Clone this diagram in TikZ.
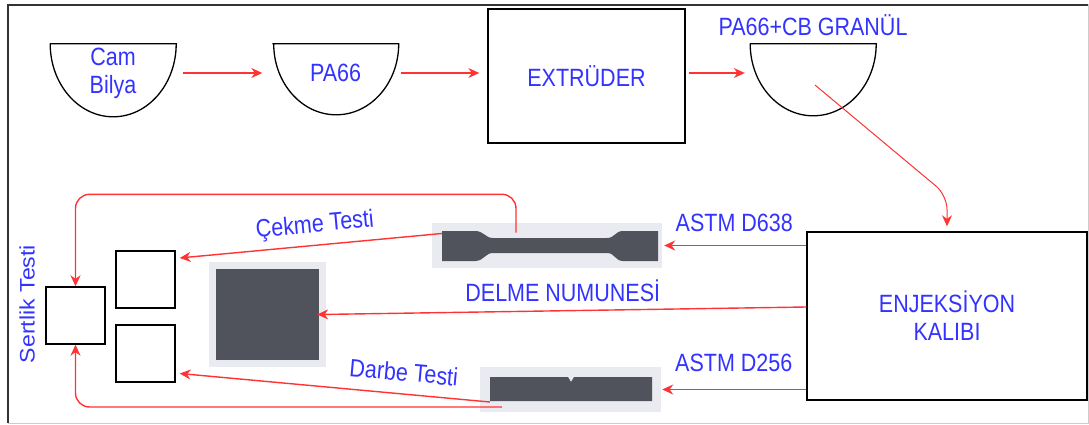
\documentclass[tikz,border=0pt]{standalone}
\usepackage{fontspec}
\usetikzlibrary{arrows.meta}

\newfontfamily\lblfont[FakeStretch=0.86]{Liberation Sans}
\newfontfamily\lblrotfont[FakeStretch=1.1]{Liberation Sans}

\definecolor{lblue}{RGB}{51,51,255}
\definecolor{lred}{RGB}{255,51,51}
\definecolor{specgray}{RGB}{80,82,92}
\definecolor{halo}{RGB}{234,235,241}

\tikzset{
  lbl/.style={font=\lblfont\fontsize{25}{28}\selectfont, text=lblue, inner sep=2pt, align=center},
  arr/.style={draw=lred, line width=1.4pt, -{Stealth[length=11pt,width=10pt]}},
  box/.style={draw=black, line width=1.4pt, fill=white, inner sep=0pt},
  bowl/.style={lbl, minimum width=126pt, minimum height=58pt},
  bowlline/.style={draw=black, line width=1.3pt},
  halobox/.style={fill=halo, inner sep=0pt},
}

\begin{document}
\begin{tikzpicture}[x=1pt, y=-1pt]

\useasboundingbox (0,0) rectangle (1089,425);

% Frame
\draw[gray!40, line width=1pt] (8,5) rectangle (1088,423);
\draw[black!80, line width=1.2pt] (8,423) -- (8,5) -- (1088,5);

% Top row
\node[bowl] (cam) at (113,73) {Cam\\Bilya};
\node[bowl] (pa) at (335.5,73) {PA66};
\node[box, lbl, minimum width=197pt, minimum height=134pt] (ext) at (586.5,76) {EXTRÜDER};
\node[bowl, label={[lbl, label distance=6pt]above:PA66+CB GRANÜL}] (gran) at (813,73) {};

\draw[bowlline] (cam.north west) -- (cam.north east) arc[start angle=0, end angle=180, x radius=63, y radius=73];
\draw[bowlline] (pa.north west) -- (pa.north east) arc[start angle=0, end angle=180, x radius=62.5, y radius=71];
\draw[bowlline] (gran.north west) -- (gran.north east) arc[start angle=0, end angle=180, x radius=63, y radius=72];

\draw[arr, shorten <=7pt, shorten >=10pt] (cam.east) -- (pa.west);
\draw[arr, shorten <=2pt, shorten >=8pt] (pa.east) -- (pa.east -| ext.west);
\draw[arr, shorten <=3pt, shorten >=5pt] (ext.east |- gran.west) -- (gran.west);

% Mould
\node[box, lbl, minimum width=280pt, minimum height=168pt] (enj) at (947,316) {ENJEKSİYON\\KALIBI};
\draw[arr, line width=1pt, rounded corners=14pt, shorten >=5pt] ([xshift=2pt,yshift=-12pt]gran.center) -- ([yshift=36pt]enj.north) -- (enj.north);

% Specimens
\node[halobox, minimum width=230pt, minimum height=45pt] (dog) at (547,245.5) {};
\fill[specgray] (442,231) -- (475,231) .. controls (484,231) and (485,238) .. (493,238) -- (607,238)
  .. controls (615,238) and (615,231) .. (623,231) -- (658,231) -- (658,261) -- (623,261)
  .. controls (615,261) and (615,253) .. (607,253) -- (493,253) .. controls (485,253) and (484,261) .. (475,261)
  -- (442,261) -- cycle;

\node[halobox, minimum width=181pt, minimum height=45pt] (bar) at (570.5,389.5) {};
\fill[specgray] (490,377) -- (568,377) -- (571,382) -- (574,377) -- (652,377) -- (652,401) -- (490,401) -- cycle;

\node[fill=specgray, inner sep=0pt, minimum width=103pt, minimum height=91pt,
  preaction={draw=halo, line width=14pt}] (delme) at (267.5,314.5) {};

% Test pieces
\node[box, minimum width=59pt, minimum height=57pt] (sert) at (75.5,315.5) {};
\node[box, minimum width=59pt, minimum height=57pt] (ck) at (145.5,279.5) {};
\node[box, minimum width=59pt, minimum height=57pt] (db) at (145.5,353.5) {};
\node[lbl, font=\lblrotfont\fontsize{21}{24}\selectfont, rotate=90] (serttxt) at (27,304) {Sertlik Testi};

% Mould to specimens
\draw[arr, shorten >=2pt] (enj.west |- dog.east) -- (dog.east) node[lbl, midway, above=11pt] {ASTM D638};
\draw[arr, shorten >=-2pt] ([yshift=9pt]enj.west) -- (delme.east) node[lbl, midway, above=6pt] {DELME NUMUNESİ};
\draw[arr, shorten >=1pt] (enj.west |- bar.east) -- (bar.east) node[lbl, midway, above=15pt] {ASTM D256};

% Specimens to tests
\draw[arr, shorten >=4pt] ([xshift=10pt,yshift=12pt]dog.west) -- (ck.35) node[lbl, pos=0.47, above=5pt, sloped] {Çekme Testi};
\draw[arr, shorten >=4pt] ([xshift=10pt,yshift=-12.5pt]bar.west) -- (db.-33) node[lbl, pos=0.28, above=10pt, sloped] {Darbe Testi};

\draw[arr, rounded corners=14pt] ([xshift=-31pt,yshift=13pt]dog.center) |- ([yshift=92pt]sert.north) -- (sert.north);
\draw[arr, rounded corners=14pt] ([xshift=22pt,yshift=-17.5pt]bar.west) -| (sert.south);

\end{tikzpicture}
\end{document}
